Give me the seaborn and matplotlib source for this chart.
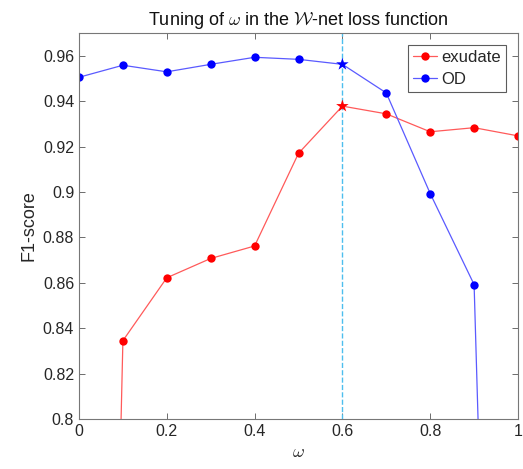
import numpy as np
import pandas as pd
import seaborn as sns
import matplotlib.pyplot as plt

# omega values and F1-scores
omega = [0.0, 0.1, 0.2, 0.3, 0.4, 0.5, 0.6, 0.7, 0.8, 0.9, 1.0]
exudate = [0.0, 0.8345, 0.8622, 0.8707, 0.8762, 0.9170, 0.9378, 0.9344, 0.9265, 0.9283, 0.9247]
od = [0.9505, 0.9558, 0.9529, 0.9562, 0.9593, 0.9584, 0.9562, 0.9436, 0.8993, 0.8592, 0.20]
best_omega = 0.6

df = pd.DataFrame({'omega': omega * 2,
                   'F1': exudate + od,
                   'task': ['exudate'] * len(omega) + ['OD'] * len(omega)})
best = df[df['omega'] == best_omega]

sns.set_style("white")
plt.rcParams['font.family'] = ['Liberation Sans', 'DejaVu Sans']
plt.rcParams['mathtext.fontset'] = 'cm'

fig = plt.figure(figsize=(5.23, 4.69), dpi=100)
ax = fig.add_axes([79 / 523, 1 - 419 / 469, 439 / 523, 386 / 469])

palette = {'exudate': '#ff0000', 'OD': '#0000ff'}
light = {'exudate': '#ff5a5a', 'OD': '#5a5aff'}
sns.lineplot(data=df, x='omega', y='F1', hue='task', palette=palette, marker='o',
             markersize=6, markeredgewidth=0, linewidth=0.9, legend=False, ax=ax)
# the best omega gets a star instead of a dot
keep = [i for i, w in enumerate(omega) if w != best_omega]
handles = []
for line, name in zip(ax.get_lines(), ['exudate', 'OD']):
    line.set_color(light[name])
    line.set_markerfacecolor(palette[name])
    line.set_markeredgecolor(palette[name])
    line.set_markevery(keep)
    line.set_label(name)
    handles.append(line)
sns.scatterplot(data=best, x='omega', y='F1', hue='task', palette=palette, marker='*',
                s=90, linewidth=0, legend=False, ax=ax, zorder=5)

ax.axvline(best_omega, color='#4dbeee', linestyle='--', linewidth=1.0)

ax.set_xlim(0, 1)
ax.set_ylim(0.8, 0.97)
ax.set_xticks([0, 0.2, 0.4, 0.6, 0.8, 1])
ax.set_xticklabels(['0', '0.2', '0.4', '0.6', '0.8', '1'])
ax.set_yticks([0.8, 0.82, 0.84, 0.86, 0.88, 0.9, 0.92, 0.94, 0.96])
ax.set_yticklabels(['0.8', '0.82', '0.84', '0.86', '0.88', '0.9', '0.92', '0.94', '0.96'])
ax.tick_params(direction='in', length=4, width=0.6, colors='#555555', labelcolor='#262626',
               labelsize=11.5, top=True, right=True, bottom=True, left=True)
for s in ax.spines.values():
    s.set_color('#777777')
    s.set_linewidth(0.8)

ax.set_xlabel(r'$\omega$', fontsize=13, color='#262626')
ax.set_ylabel('F1-score', fontsize=13, color='#262626')
ax.set_title(r'Tuning of $\omega$ in the $\mathcal{W}$-net loss function', fontsize=13, color='#111111', pad=6)

leg = ax.legend(handles=handles, labels=['exudate', 'OD'], loc='upper right', fontsize=12,
                frameon=True, fancybox=False, edgecolor='#333333', borderaxespad=0.7,
                handlelength=1.4, borderpad=0.3, labelspacing=0.45, handletextpad=0.3)
leg.get_frame().set_linewidth(0.8)

fig.savefig('out.png', dpi=100)
